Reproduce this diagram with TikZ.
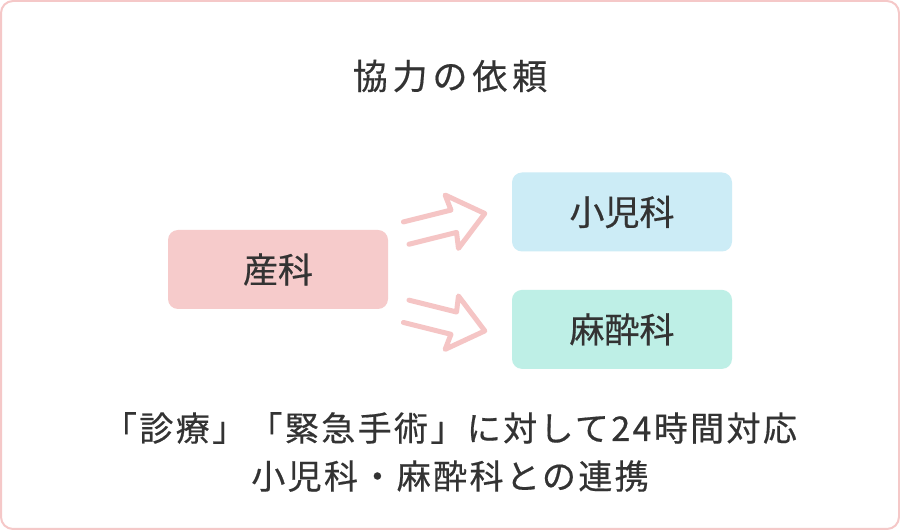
\documentclass[tikz,border=0pt]{standalone}
\usepackage{fontspec}
\setmainfont{Noto Sans CJK JP}[FakeBold=0.5]
\usepackage{tikz}
\usetikzlibrary{calc,positioning}
\definecolor{myframe}{RGB}{245, 200, 200}
\definecolor{mypink}{RGB}{246, 203, 203}
\definecolor{myblue}{RGB}{204, 236, 246}
\definecolor{myteal}{RGB}{190, 239, 230}
\definecolor{myarrow}{RGB}{245, 197, 197}
\definecolor{mytext}{RGB}{51, 51, 51}
\tikzset{
  dept/.style = {rounded corners = 10pt, minimum width = 220pt, minimum height = 79pt,
    inner sep = 0pt, text = mytext, font = \fontsize{35}{40}\selectfont},
  hollowarrow/.style = {myarrow, line width = 5pt, line cap = round, line join = round}
}
\begin{document}
\begin{tikzpicture}[x = 1pt, y = 1pt]
\useasboundingbox (0,0) rectangle (900,530);
\draw[myframe, line width = 2pt, rounded corners = 12pt, fill = white] (1,1) rectangle (899,529);
\node[text = mytext, font = \fontsize{35}{40}\selectfont\addfontfeatures{LetterSpace=14}] (title) at (450, 454) {協力の依頼};
\node[dept, fill = mypink] (obst) at (278, 260.5) {産科};
\node[dept, fill = myblue] (ped) at (622, 318) {小児科};
\node[dept, fill = myteal, below = 38pt of ped] (anes) {麻酔科};
% open double arrows
\foreach \n/\r in {ped/14, anes/-14}{
\begin{scope}[shift = {($(\n.west) + (-27, -1.5)$)}, rotate = \r]
\draw[hollowarrow] (-81, 11.5) -- (-32, 11.5) -- (-34, 27.5) -- (0, 0)
  -- (-34, -27.5) -- (-32, -11.5) -- (-81, -11.5);
\end{scope}
}
\node[text = mytext, align = center, font = \fontsize{34}{48}\selectfont\addfontfeatures{LetterSpace=7}] (note) at (450, 78) {「診療」「緊急手術」に対して24時間対応\\小児科・麻酔科との連携};
\end{tikzpicture}
\end{document}
